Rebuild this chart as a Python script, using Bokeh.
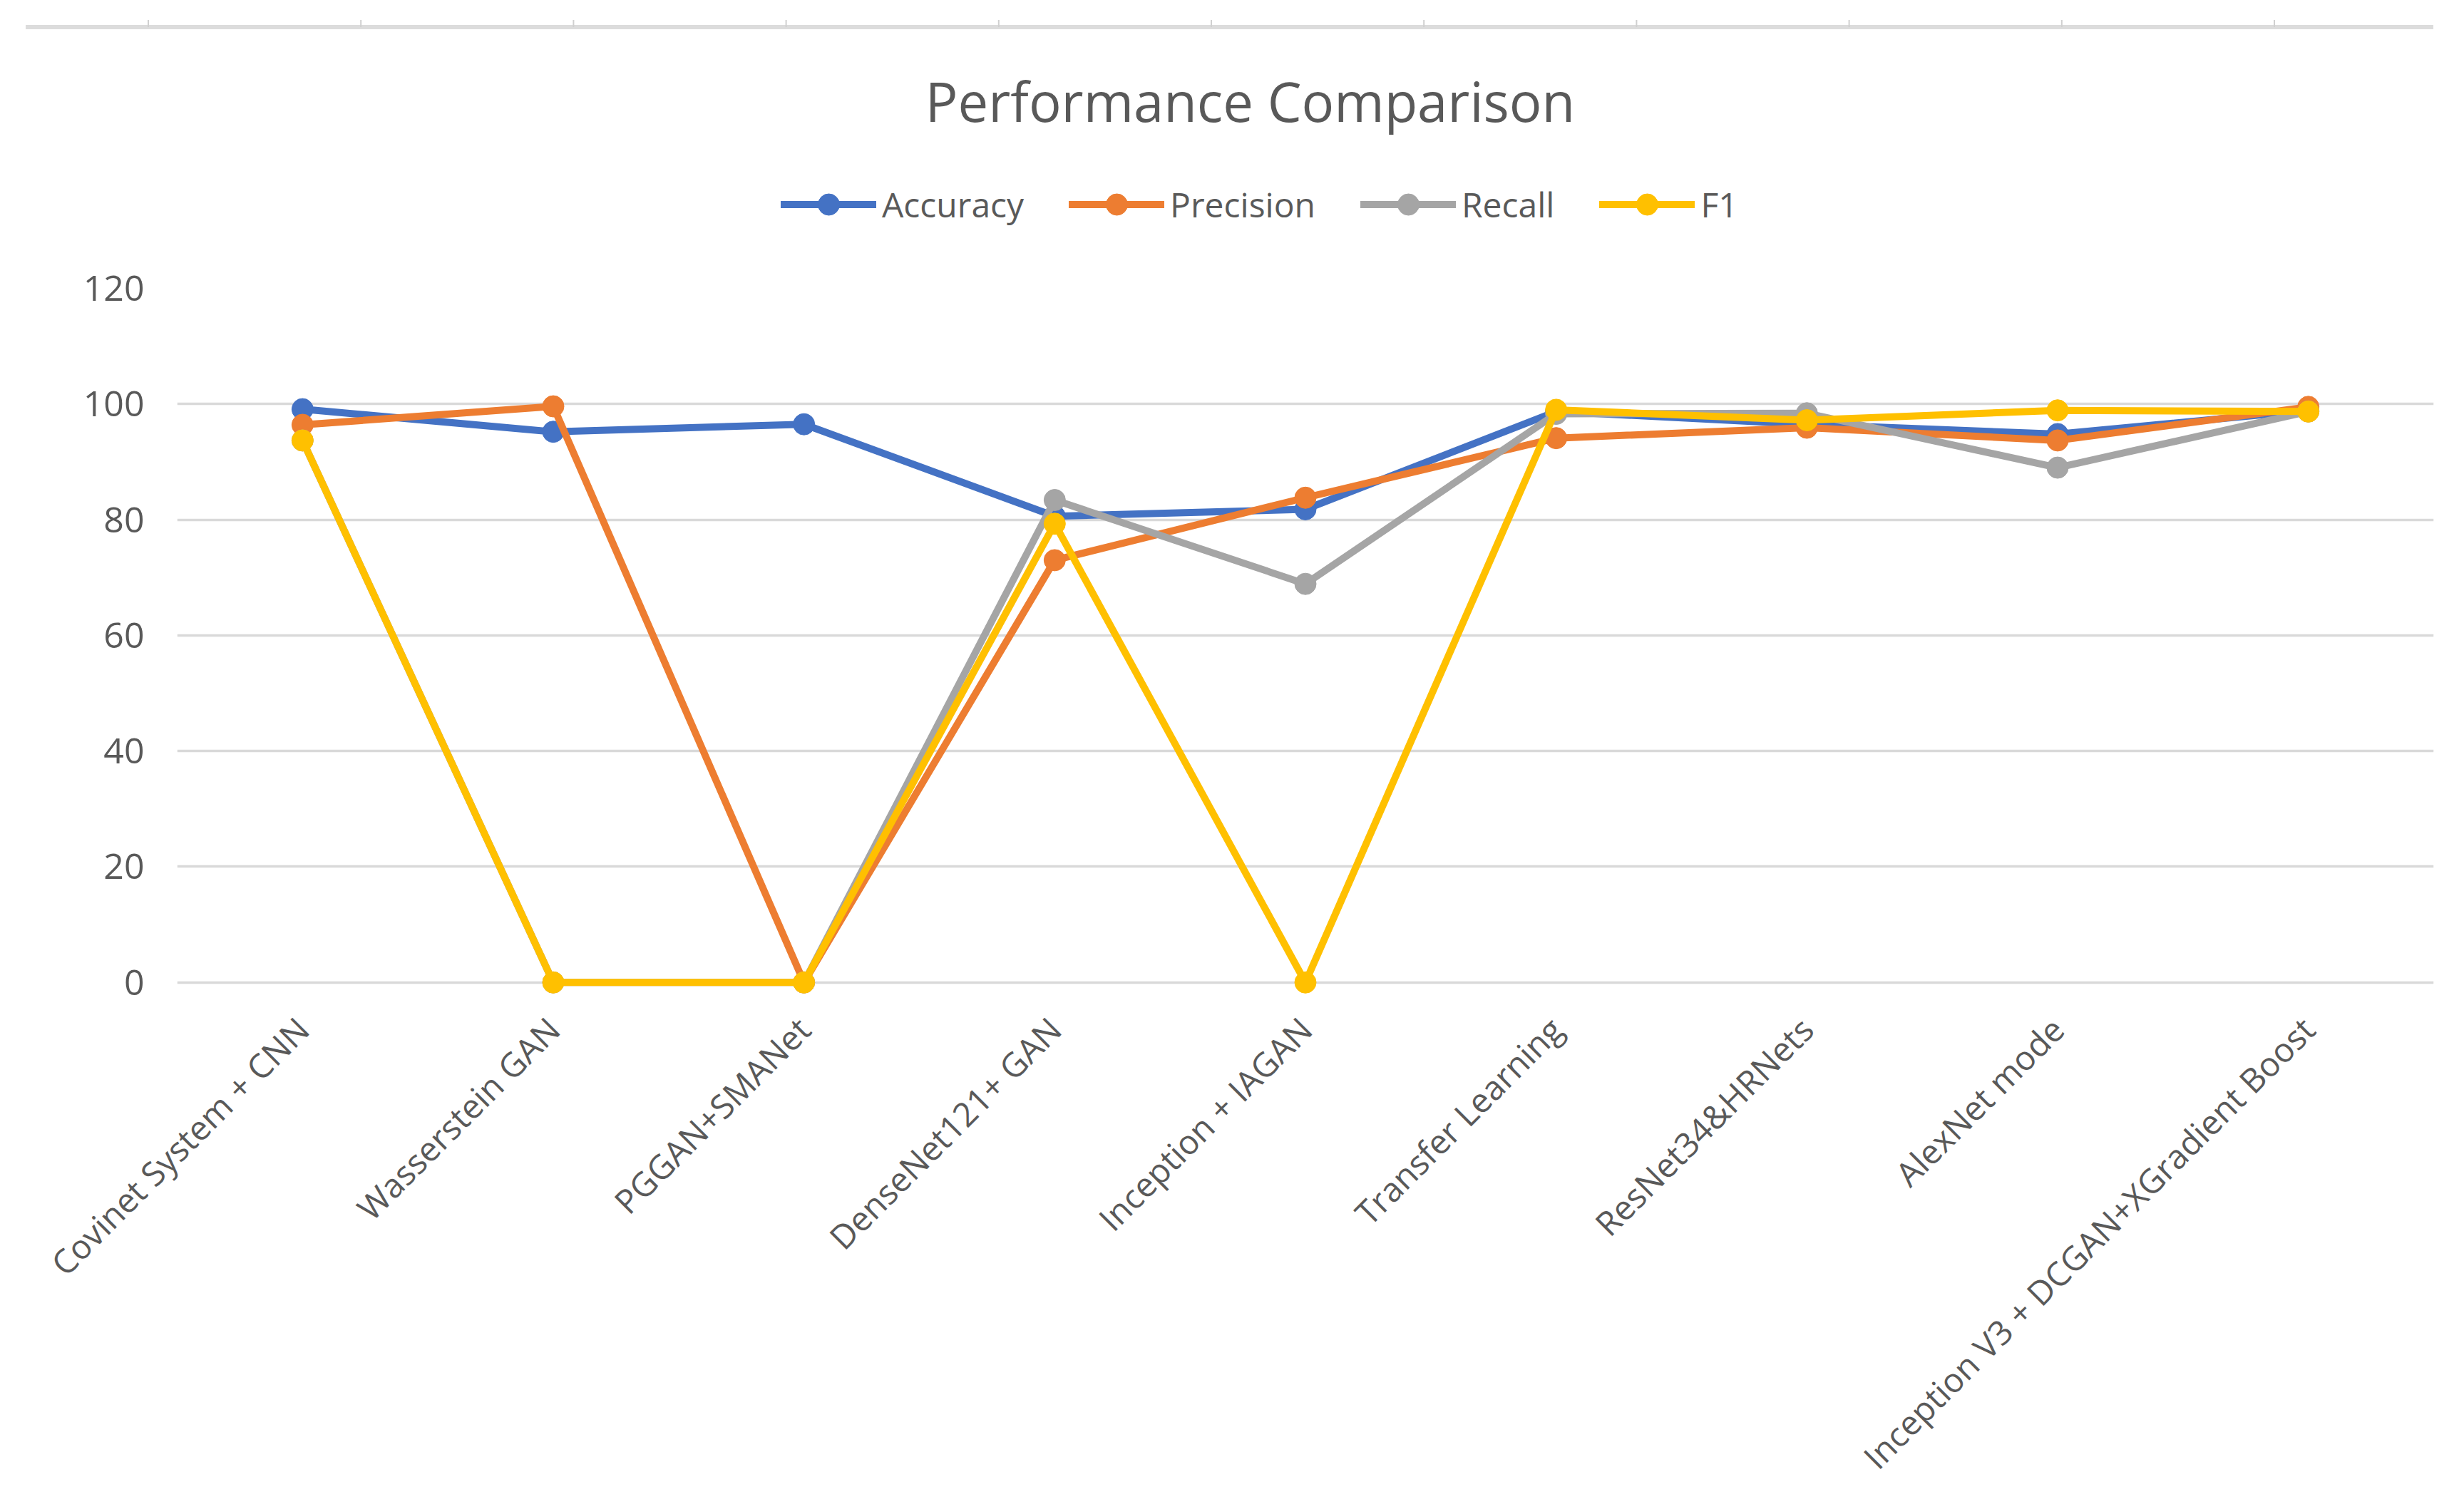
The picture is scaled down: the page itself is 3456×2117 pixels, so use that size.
import numpy as np
from math import pi
from bokeh.plotting import figure
from bokeh.models import (Range1d, FactorRange, FixedTicker, Legend, LegendItem,
                          Label, ColumnDataSource, Div)
from bokeh.layouts import column
from bokeh.embed import file_html
from bokeh.resources import INLINE

# ---------------- data ----------------
categories = [
    "Covinet System + CNN",
    "Wasserstein GAN",
    "PGGAN+SMANet",
    "DenseNet121+ GAN",
    "Inception + IAGAN",
    "Transfer Learning",
    "ResNet34&HRNets",
    "AlexNet mode",
    "Inception V3 + DCGAN+XGradient Boost",
]
accuracy = [99.1, 95.2, 96.5, 80.6, 81.8, 98.7, 96.5, 94.8, 98.9]
precision = [96.4, 99.6, 0.0, 73.0, 83.8, 94.1, 95.9, 93.7, 99.5]
recall = [93.7, 0.0, 0.0, 83.4, 68.9, 98.3, 98.4, 89.0, 98.7]
f1 = [93.7, 0.0, 0.0, 79.3, 0.0, 99.0, 97.2, 98.9, 98.7]

series_names = ["Accuracy", "Precision", "Recall", "F1"]
series_values = [accuracy, precision, recall, f1]
series_colors = ["#4472C4", "#ED7D31", "#A5A5A5", "#FFC000"]
y_ticks = [0, 20, 40, 60, 80, 100, 120]
chart_title = "Performance Comparison"

# ---------------- style / layout ----------------
FONT = "Open Sans"
TEXT = "#595959"
GRID = "#D9D9D9"
LW = 10
MS = 30

W = 3440
STRIP_H = 45          # decorative strip (cropped border at the very top)
HEAD_H = 300          # title + legend
MAIN_H = 2101 - STRIP_H - HEAD_H
BL, BR = 248, 27      # left / right borders -> plot frame at same x in both figures

# ---------------- decorative strip ----------------
tick_x = 216 + 298.2 * np.arange(11) - 8
svg = ['<svg xmlns="http://www.w3.org/2000/svg" width="%d" height="%d" style="display:block">' % (W, STRIP_H),
       '<line x1="36" y1="38" x2="3413" y2="38" stroke="#DCDCDC" stroke-width="6"/>']
for tx in tick_x:
    svg.append('<line x1="%.1f" y1="28" x2="%.1f" y2="38" stroke="#D0D0D0" stroke-width="2"/>' % (tx, tx))
svg.append('</svg>')
strip = Div(text="".join(svg), width=W, height=STRIP_H, margin=(0, 0, 0, 0))

# ---------------- header (title + legend) ----------------
y_top = 8 + STRIP_H
y_bot = y_top + HEAD_H
head = figure(width=W, height=HEAD_H, x_range=Range1d(256, 3421), y_range=Range1d(y_bot, y_top),
              output_backend="svg", toolbar_location=None, x_axis_type=None, y_axis_type=None,
              min_border_left=BL, min_border_right=BR, min_border_top=0, min_border_bottom=0)
head.grid.visible = False
head.outline_line_color = None
head.background_fill_color = "white"

head.add_layout(Label(x=1761, y=149, text=chart_title, text_align="center",
                      text_baseline="alphabetic", text_font=FONT, text_font_size="76px",
                      text_color=TEXT))

items = []
for name, color in zip(series_names, series_colors):
    hl = head.line(x=[np.nan], y=[np.nan], line_color=color, line_width=LW, line_cap="round")
    hs = head.scatter(x=[np.nan], y=[np.nan], marker="circle", size=MS,
                      fill_color=color, line_color=color)
    items.append(LegendItem(label=name, renderers=[hl, hs]))

LEG_H = 75
legend = Legend(items=items, orientation="horizontal",
                location=(1103 - 256, y_bot - (294 + LEG_H / 2)),
                glyph_width=134, glyph_height=LEG_H, label_height=LEG_H, label_standoff=8,
                spacing=63, padding=0, margin=0, border_line_color=None,
                background_fill_alpha=0, label_text_font=FONT,
                label_text_font_size="48px", label_text_color=TEXT)
head.add_layout(legend)

# ---------------- main chart ----------------
frame_top_img = 411.8
frame_bot_img = 1402.0
p = figure(width=W, height=MAIN_H,
           x_range=FactorRange(*categories), y_range=Range1d(-2, 120),
           output_backend="svg", toolbar_location=None,
           min_border_left=BL, min_border_right=BR,
           min_border_top=int(round(frame_top_img - y_bot)),
           min_border_bottom=int(round(y_bot + MAIN_H - frame_bot_img)))
p.outline_line_color = None
p.background_fill_color = "white"

src = ColumnDataSource(dict(cat=categories, **{n: v for n, v in zip(series_names, series_values)}))

for name, color in zip(series_names, series_colors):
    p.line(x="cat", y=name, source=src, line_color=color, line_width=LW,
           line_join="round", line_cap="round")
    p.scatter(x="cat", y=name, source=src, marker="circle", size=MS,
              fill_color=color, line_color=color)

# axes
p.yaxis.ticker = FixedTicker(ticks=y_ticks)
p.yaxis.axis_line_color = None
p.yaxis.major_tick_line_color = None
p.yaxis.minor_tick_line_color = None
p.yaxis.major_tick_out = 0
p.yaxis.major_label_standoff = 46
p.yaxis.major_label_text_font = FONT
p.yaxis.major_label_text_font_size = "50px"
p.yaxis.major_label_text_color = TEXT

p.xaxis.axis_line_color = None
p.xaxis.major_tick_line_color = None
p.xaxis.major_tick_out = 0
p.xaxis.major_label_orientation = pi / 4
p.xaxis.major_label_standoff = 41
p.xaxis.major_label_text_font = FONT
p.xaxis.major_label_text_font_size = "47px"
p.xaxis.major_label_text_color = TEXT

p.xgrid.grid_line_color = None
p.ygrid.grid_line_color = GRID
p.ygrid.grid_line_width = 3.5

layout = column(strip, head, p)
open("out.html", "w").write(file_html(layout, INLINE))
